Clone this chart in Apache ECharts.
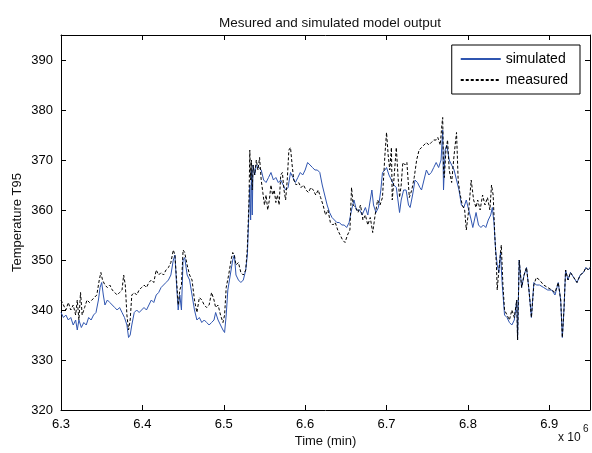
<!DOCTYPE html>
<html>
<head>
<meta charset="utf-8">
<script src="https://cdn.jsdelivr.net/npm/echarts@6/dist/echarts.min.js"></script>
<style>html,body{margin:0;padding:0;background:#fff}#c{width:592px;height:453px}</style>
</head>
<body>
<div id="c"></div>
<script>
var simX = [6.300,6.303,6.306,6.309,6.312,6.315,6.318,6.320,6.322,6.325,6.328,6.331,6.334,6.337,6.340,6.343,6.346,6.348,6.350,6.352,6.354,6.357,6.360,6.363,6.366,6.369,6.372,6.375,6.378,6.381,6.383,6.385,6.387,6.390,6.393,6.396,6.399,6.402,6.405,6.408,6.411,6.414,6.417,6.420,6.423,6.426,6.429,6.432,6.435,6.438,6.440,6.442,6.444,6.446,6.448,6.450,6.452,6.455,6.458,6.461,6.464,6.467,6.470,6.473,6.476,6.479,6.482,6.485,6.488,6.490,6.493,6.496,6.499,6.501,6.503,6.505,6.508,6.511,6.513,6.515,6.518,6.521,6.524,6.527,6.529,6.531,6.532,6.533,6.534,6.535,6.536,6.538,6.540,6.543,6.546,6.549,6.552,6.555,6.558,6.561,6.564,6.567,6.570,6.573,6.576,6.579,6.582,6.585,6.588,6.591,6.594,6.597,6.600,6.603,6.606,6.609,6.612,6.615,6.618,6.621,6.624,6.627,6.630,6.633,6.636,6.639,6.642,6.645,6.648,6.651,6.654,6.657,6.660,6.663,6.667,6.670,6.674,6.677,6.680,6.682,6.684,6.687,6.690,6.693,6.695,6.698,6.700,6.703,6.706,6.709,6.712,6.714,6.716,6.718,6.721,6.724,6.727,6.729,6.732,6.735,6.738,6.741,6.743,6.746,6.749,6.752,6.755,6.758,6.761,6.764,6.767,6.769,6.770,6.772,6.774,6.777,6.780,6.783,6.786,6.789,6.792,6.795,6.798,6.801,6.804,6.806,6.808,6.810,6.813,6.816,6.819,6.822,6.825,6.828,6.830,6.832,6.834,6.836,6.838,6.840,6.842,6.845,6.848,6.851,6.854,6.857,6.860,6.861,6.863,6.866,6.869,6.872,6.875,6.878,6.881,6.884,6.888,6.893,6.898,6.903,6.907,6.911,6.914,6.916,6.918,6.920,6.923,6.926,6.930,6.934,6.938,6.942,6.945,6.948,6.950];
var simY = [339.5,338.5,339,338,338.5,337,338,336,338,336.5,337.5,337,338.5,338,339,339.5,342,344.5,345.5,343,341,342,341.5,341,340.5,340,340.5,339.5,338.5,337,334.5,335,337,339.5,340,339.5,340,340.5,340,341,342,341.5,343,343.5,344.5,345,345.5,346,347,350,351,345,340,343,340,350,350.5,347,346,343,340,338,338.5,337.5,338,337.5,337,337.5,338,339.5,338,337,336,335.5,339,344,347,350,351,347,346,345.5,346,348,351,360,365,358,368,359,369,367,369,368.5,368,366,365.5,366.5,367.5,366,366.5,365.5,366,365,364,364.5,367.5,366.5,365.5,366.5,367.5,367,368,369.5,369,368.5,368,368,367.5,365,363,361,359.5,358.5,358,357.5,357.5,357,357,356.5,357.5,360,362,360,360,359,360.5,359,362,364,361,359.5,360.5,364,367.5,368,368.5,367,366,365,364.5,362,359.5,362,364,364,361,360.5,363,366,365.5,364.5,364,366,368,367,367.5,368.5,369.5,368.5,370,376,364,372,373,370,369,368,366,364,361,360.5,362,360,358,356.5,358,359.5,357,356.5,357,356.5,358,359,360.5,357.5,352,349,347.5,351.5,345.5,339,338.5,337.5,337,338,342,334,350,344.5,347,348.5,344,338.5,345.5,345,345,344.5,344,344,343,345.5,342,334.5,340,348,346,347.5,346.5,345.5,347,347.5,348.5,348,348.5];
var meaX = [6.300,6.303,6.306,6.309,6.312,6.315,6.318,6.320,6.322,6.324,6.326,6.329,6.332,6.335,6.338,6.341,6.344,6.347,6.349,6.351,6.354,6.357,6.360,6.363,6.366,6.369,6.372,6.375,6.377,6.379,6.381,6.383,6.385,6.387,6.390,6.393,6.396,6.399,6.402,6.405,6.408,6.411,6.414,6.417,6.420,6.423,6.426,6.429,6.432,6.435,6.438,6.440,6.442,6.444,6.446,6.448,6.450,6.452,6.455,6.458,6.461,6.464,6.467,6.470,6.473,6.476,6.479,6.482,6.485,6.488,6.490,6.493,6.496,6.499,6.501,6.503,6.506,6.509,6.511,6.513,6.515,6.518,6.521,6.524,6.527,6.529,6.531,6.532,6.533,6.534,6.535,6.536,6.538,6.540,6.542,6.544,6.546,6.548,6.550,6.552,6.554,6.556,6.558,6.560,6.562,6.564,6.566,6.568,6.570,6.572,6.574,6.576,6.578,6.580,6.582,6.584,6.586,6.589,6.592,6.595,6.598,6.601,6.604,6.607,6.610,6.613,6.616,6.619,6.622,6.625,6.628,6.631,6.634,6.637,6.640,6.643,6.646,6.649,6.652,6.655,6.657,6.659,6.662,6.665,6.668,6.671,6.674,6.677,6.680,6.683,6.686,6.689,6.692,6.695,6.698,6.700,6.702,6.704,6.706,6.707,6.709,6.712,6.714,6.716,6.718,6.720,6.723,6.725,6.728,6.731,6.734,6.737,6.740,6.743,6.746,6.749,6.752,6.755,6.758,6.761,6.763,6.766,6.768,6.769,6.770,6.771,6.773,6.775,6.777,6.780,6.783,6.786,6.788,6.790,6.793,6.796,6.798,6.801,6.804,6.807,6.810,6.812,6.815,6.818,6.821,6.824,6.827,6.829,6.831,6.833,6.835,6.836,6.838,6.841,6.843,6.845,6.848,6.851,6.854,6.857,6.860,6.861,6.863,6.866,6.869,6.872,6.875,6.878,6.881,6.884,6.888,6.893,6.898,6.903,6.907,6.911,6.914,6.916,6.918,6.920,6.923,6.926,6.930,6.934,6.938,6.942,6.945,6.948,6.950];
var meaY = [342,341,340,341.5,340,341,339,342,338,343.5,339,340.5,342,341.5,342,342.5,343,346,347.5,346,345,344.5,345,344,343.5,343,343.5,344,347,345,339,336,338,343,343.5,343,344,344.5,345,344.5,345.5,346,345.5,348,347,347.5,347,348,348.5,349.5,352,351,346,341,344,345,352,351.5,349,347,346,342,339.5,342.5,342,341,340.5,341,343.5,342,340.5,341,339,337.5,339,344.5,347,350,351.5,351,349,349.5,347.5,347,348,352.5,362,372,366,370,364,369,367,370,368,370.5,366,363.5,361,363,360,362,365,363,364,361.5,363,361,367,367.5,364,362,366,372,372.5,369,366,365,365.5,364.5,365,364,363.5,364.5,364,363,364,362.5,361,359,360,357.5,357,357.5,356,355,354,353.5,355,356,364.5,361,360.5,359.5,361,358,359,357,358.5,355.5,359,362,361,362.5,371,375.5,371,368,372.5,362,366,372.5,367,362.5,365,369.5,369,369.5,362.5,364,366.5,370,372,372.5,373,373.5,373,373.5,374,374,374.5,373,377,378.5,368,366.5,372,374,368,365.5,371,375.5,366,363.5,361,360,356,360,366,362,360.5,362,360,363,361,362.5,360,365,363,355,349,344,348,353,345,340,339,338,340,338.5,342,334,350,344.5,347,348.5,344,338.5,345,346.5,346,345,344.5,344,343.5,345.5,342,334.5,340,348,346,347.5,346.5,345.5,347,347.5,348.5,348,348.5];
var xTickMin = 6.3, xTickMax = 6.95, xStep = 0.1;
var yTickMin = 320, yTickMax = 395, yStep = 10;

function pairs(xs, ys) { var out = []; for (var i = 0; i < xs.length; i++) out.push([xs[i], ys[i]]); return out; }

var FONT = 'Liberation Sans';
var chart = echarts.init(document.getElementById('c'));
var axisCommon = {
  type: 'value',
  axisLine: { show: true, onZero: false, lineStyle: { color: '#000', width: 1 } },
  axisTick: { show: true, inside: true, length: 5, lineStyle: { color: '#000' } },
  splitLine: { show: false }
};
chart.setOption({
  animation: false,
  backgroundColor: '#fff',
  title: {
    text: 'Mesured and simulated model output',
    left: 325, top: 11, textAlign: 'center',
    textStyle: { fontFamily: FONT, fontSize: 13.5, fontWeight: 'normal', color: '#111' }
  },
  legend: {
    orient: 'vertical', right: 12, top: 45,
    backgroundColor: '#fff',
    borderColor: '#000', borderWidth: 1, borderRadius: 0,
    padding: [7, 12, 7, 8],
    itemGap: 7, itemWidth: 40, itemHeight: 14,
    itemStyle: { opacity: 0 },
    textStyle: { fontFamily: FONT, fontSize: 14, color: '#000' },
    data: ['simulated', 'measured']
  },
  grid: { left: 61, right: 2, top: 35, bottom: 43, containLabel: false },
  xAxis: [
    Object.assign({}, axisCommon, {
      position: 'bottom', min: xTickMin, max: xTickMax, interval: xStep,
      axisLabel: { show: true, showMaxLabel: false, margin: 8, color: '#000', fontFamily: FONT, fontSize: 13 },
      name: 'Time (min)', nameLocation: 'middle', nameGap: 25, nameMoveOverlap: false,
      nameTextStyle: { fontFamily: FONT, fontSize: 13, color: '#111' }
    }),
    Object.assign({}, axisCommon, {
      position: 'top', min: xTickMin, max: xTickMax, interval: xStep,
      axisLabel: { show: false }
    })
  ],
  yAxis: [
    Object.assign({}, axisCommon, {
      position: 'left', min: yTickMin, max: yTickMax, interval: yStep,
      axisLabel: { show: true, showMaxLabel: false, margin: 8, color: '#000', fontFamily: FONT, fontSize: 13 },
      name: 'Temperature T95', nameLocation: 'middle', nameGap: 37, nameMoveOverlap: false,
      nameTextStyle: { fontFamily: FONT, fontSize: 13, color: '#111' }
    }),
    Object.assign({}, axisCommon, {
      position: 'right', min: yTickMin, max: yTickMax, interval: yStep,
      axisLabel: { show: false }
    })
  ],
  graphic: [
    { type: 'text', left: 558, top: 432, style: { text: 'x 10', fontFamily: FONT, fontSize: 12, fill: '#111' } },
    { type: 'text', left: 583, top: 424, style: { text: '6', fontFamily: FONT, fontSize: 10, fill: '#111' } }
  ],
  series: [
    {
      name: 'simulated', type: 'line', xAxisIndex: 0, yAxisIndex: 0,
      showSymbol: false, symbol: 'none', clip: true,
      lineStyle: { color: '#2f55b0', width: 1 },
      itemStyle: { color: '#2f55b0' },
      data: pairs(simX, simY)
    },
    {
      name: 'measured', type: 'line', xAxisIndex: 0, yAxisIndex: 0,
      showSymbol: false, symbol: 'none', clip: true,
      lineStyle: { color: '#000', width: 1, type: [3, 2] },
      itemStyle: { color: '#000' },
      data: pairs(meaX, meaY)
    }
  ]
});
</script>
</body>
</html>
